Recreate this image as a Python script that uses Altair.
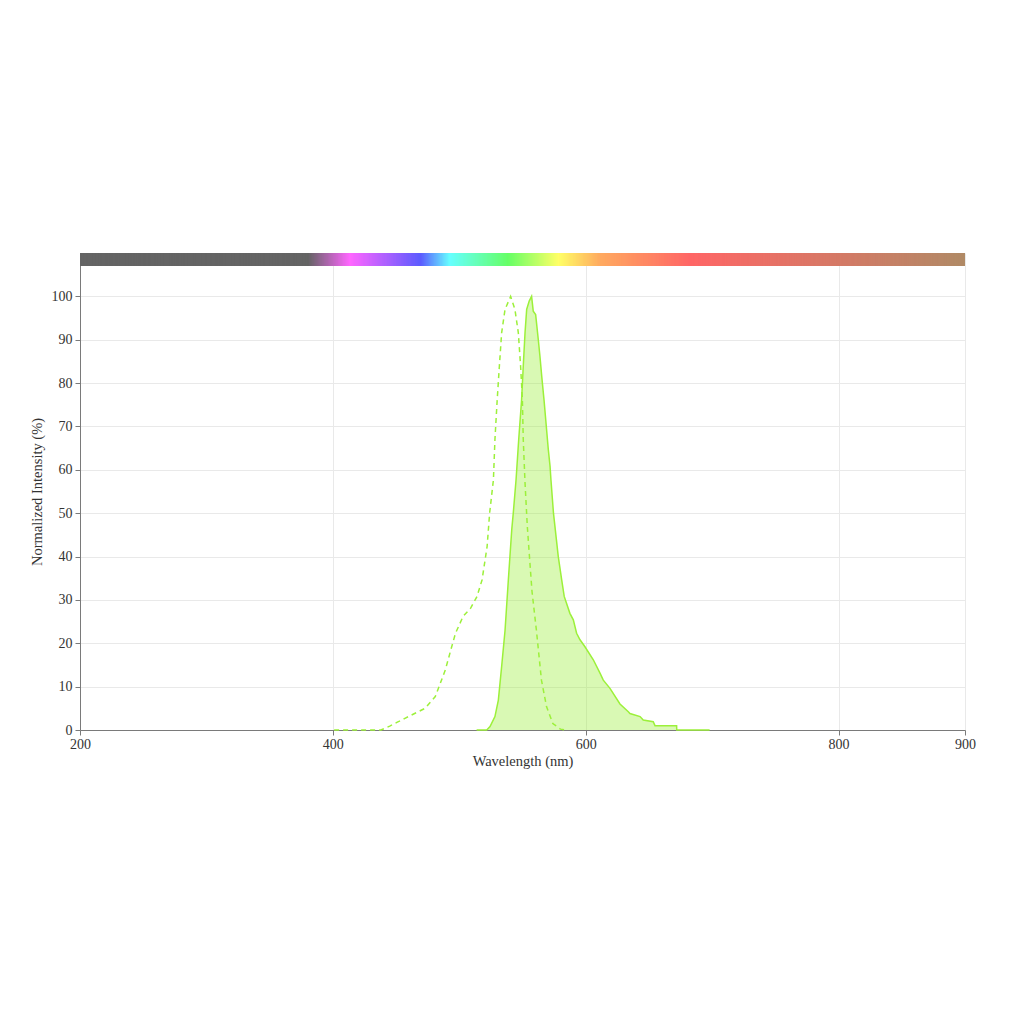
import altair as alt
import pandas as pd

# Excitation spectrum (dashed)
ex_nm = [401, 438, 445, 451, 457, 466, 473, 481, 484, 489, 494, 497, 503, 509,
         514, 518, 522, 524, 527, 528.2, 530, 531.7, 533.5, 536.2, 540.6,
         544, 546.7, 548.5, 549.9, 550.6, 552, 553.8, 555.5, 557.5, 561,
         565, 569, 574, 580, 585]
ex_val = [0, 0, 0.9, 1.8, 2.7, 4, 5, 7.7, 10, 13.9, 19.2, 22.3, 26.2, 28.1,
          30.8, 34.6, 42.3, 50, 57.7, 67, 76.2, 83.9, 91.6, 97, 100,
          97, 91.6, 83.9, 76.2, 67, 57, 47, 40, 32, 23,
          11.5, 5.4, 1.5, 0.2, 0]

# Emission spectrum (filled)
em_nm = [513.7, 521.7, 524.3, 528.2, 530.9, 533.5, 536.2, 538.8, 541.5, 542.7,
         544.9, 547, 549.3, 550.6, 552, 553.3, 555.3, 557.2, 558.5, 560.4,
         562.5, 563.8, 565.2, 567, 568.6, 570.4, 571.8, 572.5, 574.5, 578.3,
         581, 583, 587.5, 590.2, 592.8, 595.5, 599.4, 606, 611.3, 613.9,
         619.2, 627.1, 633.7, 635, 643, 645.5, 653.4, 654.8, 671.9, 672, 698]
em_val = [0, 0, 0.8, 3.1, 6.9, 14.6, 23, 34.6, 46.2, 50,
          57.7, 67, 76.2, 83.9, 91.6, 97, 98.9, 100, 96.6, 95.8,
          90, 86.2, 81.6, 76.2, 70.8, 64.7, 60.8, 57.7, 50, 40,
          34.6, 30.8, 26.9, 25.4, 22.3, 20.8, 19.2, 16.2, 13.1, 11.5,
          9.6, 6, 4.2, 3.8, 3.1, 2.3, 1.9, 1.0, 1.0, 0, 0]

# Wavelength colour bar
bar_stop_nm = [200, 380, 413, 469, 492, 538, 578, 611, 682, 900]
bar_stop_color = ["#646464", "#646464", "#ff66ff", "#5c5cff", "#66ffff",
                  "#66ff66", "#ffff66", "#ffaa60", "#ff6666", "#b08a66"]
bar_nm = list(range(200, 900))

x_ticks = [200, 400, 600, 800, 900]
y_ticks = list(range(0, 101, 10))

GREEN = "#9cf03a"

ex_df = pd.DataFrame({"nm": ex_nm, "val": ex_val})
em_df = pd.DataFrame({"nm": em_nm, "val": em_val})
bar_df = pd.DataFrame({"nm": bar_nm,
                       "nm2": [min(v + 2, 900) for v in bar_nm]})

xscale = alt.Scale(domain=[200, 900], nice=False, zero=False)
yscale = alt.Scale(domain=[0, 110], nice=False, zero=True)

xaxis = alt.Axis(values=x_ticks, title="Wavelength (nm)", labelFlush=False,
                 grid=True, titlePadding=3, labelPadding=2)
yaxis = alt.Axis(values=y_ticks, title="Normalized Intensity (%)",
                 grid=True, titlePadding=7, labelPadding=3)

cscale = alt.Scale(domain=bar_stop_nm, range=bar_stop_color, interpolate="rgb")

bar = alt.Chart(bar_df).mark_rect().encode(
    x=alt.X("nm:Q", scale=xscale, axis=xaxis),
    x2="nm2:Q",
    y=alt.datum(107, scale=yscale, axis=yaxis),
    y2=alt.datum(110),
    color=alt.Color("nm:Q", scale=cscale, legend=None),
)

em_area = alt.Chart(em_df).mark_area(color=GREEN, opacity=0.38).encode(
    x=alt.X("nm:Q", scale=xscale, axis=xaxis),
    y=alt.Y("val:Q", scale=yscale, axis=yaxis),
)
em_line = alt.Chart(em_df).mark_line(color=GREEN, strokeWidth=1.5).encode(
    x=alt.X("nm:Q", scale=xscale),
    y=alt.Y("val:Q", scale=yscale),
)
ex_line = alt.Chart(ex_df).mark_line(color=GREEN, strokeWidth=1.5,
                                     strokeDash=[5, 4]).encode(
    x=alt.X("nm:Q", scale=xscale),
    y=alt.Y("val:Q", scale=yscale),
)

chart = alt.layer(em_area, em_line, ex_line, bar).resolve_scale(
    color="independent"
).properties(
    width=885, height=477,
    autosize=alt.AutoSizeParams(type="none"),
    padding={"left": 72, "top": 245, "right": 40, "bottom": 260},
).configure_axis(
    labelFont="Liberation Serif", titleFont="Liberation Serif",
    labelFontSize=14, titleFontSize=14.5, titleFontWeight="normal",
    labelColor="#333333", titleColor="#333333",
    gridColor="#e9e9e9", domainColor="#7a7a7a", tickColor="#7a7a7a",
    tickSize=5,
).configure_view(stroke=None)

chart.save("out.html", embed_options={"renderer": "svg", "actions": False})
